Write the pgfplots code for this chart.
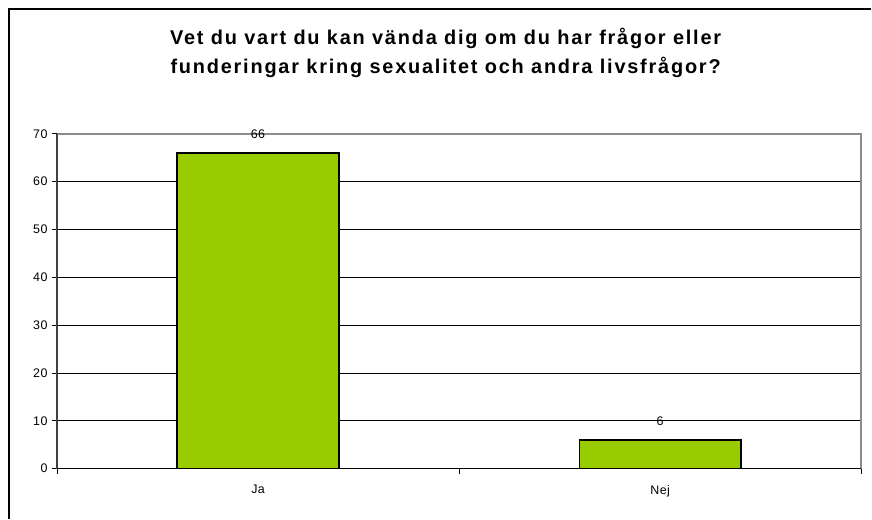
\documentclass[border=0pt]{standalone}
\usepackage{fontspec}
\setmainfont{Liberation Sans}
\newfontfamily\titlefont[LetterSpace=9]{Liberation Sans}
\newfontfamily\labelfont[LetterSpace=3]{Liberation Sans}
\usepackage{pgfplots}
\pgfplotsset{compat=1.18}
\definecolor{bargreen}{HTML}{99CC00}
\definecolor{framegray}{HTML}{8C8C8C}
\begin{document}
\begin{tikzpicture}[x=1bp,y=1bp]
\fill[white] (0,0) rectangle (872,519);
\draw[black,line width=1.5bp] (9,0) -- (9,510) -- (872,510);
\node[anchor=base,font=\titlefont\fontsize{20}{22}\selectfont\bfseries] at (446,474) {Vet du vart du kan vända dig om du har frågor eller};
\node[anchor=base,font=\titlefont\fontsize{20}{22}\selectfont\bfseries] at (446,445) {funderingar kring sexualitet och andra livsfrågor?};
\begin{axis}[
  at={(57bp,50bp)}, anchor=south west,
  scale only axis, width=805bp, height=335bp,
  xmin=-0.5, xmax=1.5, ymin=0, ymax=70,
  ytick={0,10,...,70},
  xtick={0,1}, xticklabels={Ja,Nej},
  minor xtick={-0.5,0.5,1.5},
  major x tick style={draw=none},
  minor tick length=5bp,
  major tick length=5bp,
  tick align=outside,
  tick pos=left,
  ymajorgrids, grid style={black,line width=0.8bp},
  axis line style={draw=none},
  tick style={black,line width=0.8bp},
  ticklabel style={font=\labelfont\fontsize{12.5}{15}\selectfont},
  /pgf/number format/assume math mode=true,
  xticklabel style={yshift=-8bp},
  yticklabel style={xshift=-1bp},
  ybar, bar width=162bp,
  nodes near coords,
  every node near coord/.append style={anchor=center, yshift=19bp, font=\labelfont\fontsize{12.5}{15}\selectfont},
  clip=false,
]
\addplot[fill=bargreen, draw=black, line width=1.3bp] coordinates {(0,66) (1,6)};
\draw[framegray,line width=2bp] (axis cs:-0.5,70) -- (axis cs:1.5,70) -- (axis cs:1.5,0);
\draw[black!75,line width=1.5bp] (axis cs:-0.5,0) -- (axis cs:-0.5,70);
\draw[black,line width=1.2bp] (axis cs:-0.5,0) -- (axis cs:1.5,0);
\end{axis}
\end{tikzpicture}
\end{document}
